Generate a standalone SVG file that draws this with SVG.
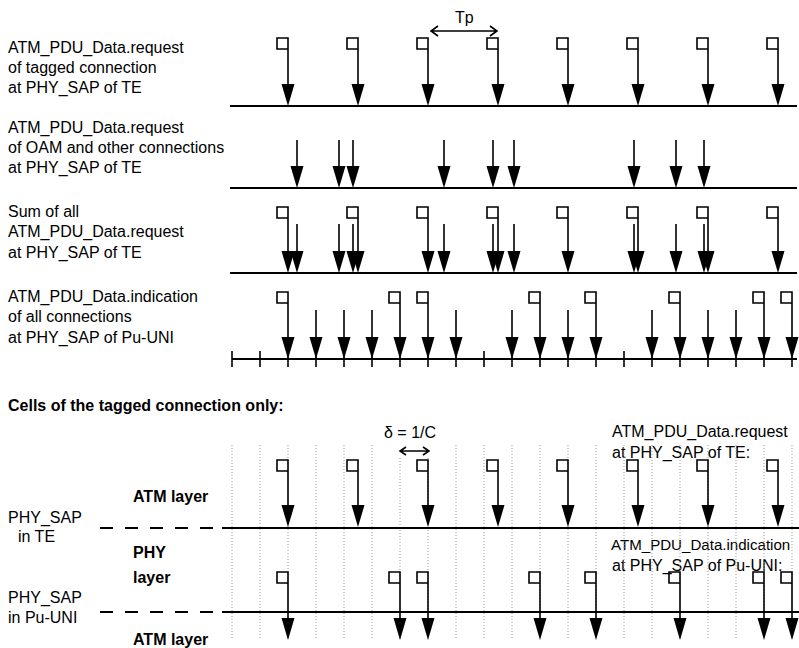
<svg xmlns="http://www.w3.org/2000/svg" xmlns:xlink="http://www.w3.org/1999/xlink" width="799" height="648" viewBox="0 0 799 648">
<style>
text{font-family:"Liberation Sans",Arial,sans-serif;font-size:16px;fill:#000}
.b{font-weight:bold}
.st{stroke:#000;stroke-width:1.6;fill:none}
.bl{stroke:#000;stroke-width:2;fill:none}
.grid{stroke:#9a9a9a;stroke-width:1;stroke-dasharray:1 2;fill:none}
.dash{stroke:#000;stroke-width:2;stroke-dasharray:13 12;fill:none}
</style>
<defs>
<path id="ah" d="M-6.5,-22 H6.5 L0,0 Z" fill="#000"/>
</defs>

<g id="labels">
<text x="8" y="53">ATM_PDU_Data.request</text>
<text x="8" y="73">of tagged connection</text>
<text x="8" y="93">at PHY_SAP of TE</text>
<text x="8" y="133">ATM_PDU_Data.request</text>
<text x="8" y="153">of OAM and other connections</text>
<text x="8" y="173">at PHY_SAP of TE</text>
<text x="8" y="217">Sum of all</text>
<text x="8" y="237">ATM_PDU_Data.request</text>
<text x="8" y="258">at PHY_SAP of TE</text>
<text x="8" y="302">ATM_PDU_Data.indication</text>
<text x="8" y="322">of all connections</text>
<text x="8" y="343">at PHY_SAP of Pu-UNI</text>
<text x="8" y="411" class="b">Cells of the tagged connection only:</text>
<text x="384" y="438">δ = 1/C</text>
<text x="612" y="437">ATM_PDU_Data.request</text>
<text x="612" y="458">at PHY_SAP of TE:</text>
<text x="133" y="502" class="b">ATM layer</text>
<text x="8" y="523">PHY_SAP</text>
<text x="18" y="542">in TE</text>
<text x="611" y="550" style="font-size:15.1px">ATM_PDU_Data.indication</text>
<text x="612" y="571">at PHY_SAP of Pu-UNI:</text>
<text x="133" y="558" class="b">PHY</text>
<text x="133" y="583" class="b">layer</text>
<text x="8" y="603">PHY_SAP</text>
<text x="8" y="623">in Pu-UNI</text>
<text x="133" y="645" class="b">ATM layer</text>
</g>

<g id="tp">
<text x="455" y="23">Tp</text>
<path class="st" d="M431,31 H497 M438,26 L431,31 L438,36 M490,26 L497,31 L490,36"/>
</g>

<g id="row1">
<path class="bl" d="M230,106 H797"/>
<path class="st" d="M288,84 V38 h-11 v11 h11 M358,84 V38 h-11 v11 h11 M428,84 V38 h-11 v11 h11 M498,84 V38 h-11 v11 h11 M568,84 V38 h-11 v11 h11 M638,84 V38 h-11 v11 h11 M708,84 V38 h-11 v11 h11 M778,84 V38 h-11 v11 h11"/>
<use xlink:href="#ah" x="288" y="106"/><use xlink:href="#ah" x="358" y="106"/><use xlink:href="#ah" x="428" y="106"/><use xlink:href="#ah" x="498" y="106"/>
<use xlink:href="#ah" x="568" y="106"/><use xlink:href="#ah" x="638" y="106"/><use xlink:href="#ah" x="708" y="106"/><use xlink:href="#ah" x="778" y="106"/>
</g>

<g id="row2">
<path class="bl" d="M230,188 H797"/>
<path class="st" d="M297,140 V166 M339,140 V166 M353,140 V166 M444,140 V166 M493,140 V166 M514,140 V166 M634,140 V166 M676,140 V166 M704,140 V166"/>
<use xlink:href="#ah" x="297" y="188"/><use xlink:href="#ah" x="339" y="188"/><use xlink:href="#ah" x="353" y="188"/><use xlink:href="#ah" x="444" y="188"/><use xlink:href="#ah" x="493" y="188"/><use xlink:href="#ah" x="514" y="188"/><use xlink:href="#ah" x="634" y="188"/><use xlink:href="#ah" x="676" y="188"/><use xlink:href="#ah" x="704" y="188"/>
</g>

<g id="row3">
<path class="bl" d="M230,273 H797"/>
<path class="st" d="M288,251 V207 h-11 v11 h11 M358,251 V207 h-11 v11 h11 M428,251 V207 h-11 v11 h11 M498,251 V207 h-11 v11 h11 M568,251 V207 h-11 v11 h11 M638,251 V207 h-11 v11 h11 M708,251 V207 h-11 v11 h11 M778,251 V207 h-11 v11 h11"/>
<path class="st" d="M297,224 V251 M339,224 V251 M353,224 V251 M444,224 V251 M493,224 V251 M514,224 V251 M634,224 V251 M676,224 V251 M704,224 V251"/>
<use xlink:href="#ah" x="288" y="273"/><use xlink:href="#ah" x="358" y="273"/><use xlink:href="#ah" x="428" y="273"/><use xlink:href="#ah" x="498" y="273"/>
<use xlink:href="#ah" x="568" y="273"/><use xlink:href="#ah" x="638" y="273"/><use xlink:href="#ah" x="708" y="273"/><use xlink:href="#ah" x="778" y="273"/>
<use xlink:href="#ah" x="297" y="273"/><use xlink:href="#ah" x="339" y="273"/><use xlink:href="#ah" x="353" y="273"/><use xlink:href="#ah" x="444" y="273"/><use xlink:href="#ah" x="493" y="273"/><use xlink:href="#ah" x="514" y="273"/><use xlink:href="#ah" x="634" y="273"/><use xlink:href="#ah" x="676" y="273"/><use xlink:href="#ah" x="704" y="273"/>
</g>

<g id="row4">
<path class="bl" d="M232,359 H797"/>
<path class="st" d="M232,351 V367 M260,351 V367 M288,351 V367 M316,351 V367 M344,351 V367 M372,351 V367 M400,351 V367 M428,351 V367 M456,351 V367 M484,351 V367 M512,351 V367 M540,351 V367 M568,351 V367 M596,351 V367 M624,351 V367 M652,351 V367 M680,351 V367 M708,351 V367 M736,351 V367 M764,351 V367 M792,351 V367"/>
<path class="st" d="M288,337 V292 h-11 v11 h11 M400,337 V292 h-11 v11 h11 M428,337 V292 h-11 v11 h11 M540,337 V292 h-11 v11 h11 M596,337 V292 h-11 v11 h11 M680,337 V292 h-11 v11 h11 M764,337 V292 h-11 v11 h11 M792,337 V292 h-11 v11 h11"/>
<path class="st" d="M316,310 V337 M344,310 V337 M372,310 V337 M456,310 V337 M512,310 V337 M568,310 V337 M652,310 V337 M708,310 V337 M736,310 V337"/>
<use xlink:href="#ah" x="288" y="359"/><use xlink:href="#ah" x="316" y="359"/><use xlink:href="#ah" x="344" y="359"/><use xlink:href="#ah" x="372" y="359"/><use xlink:href="#ah" x="400" y="359"/><use xlink:href="#ah" x="428" y="359"/><use xlink:href="#ah" x="456" y="359"/>
<use xlink:href="#ah" x="512" y="359"/><use xlink:href="#ah" x="540" y="359"/><use xlink:href="#ah" x="568" y="359"/><use xlink:href="#ah" x="596" y="359"/>
<use xlink:href="#ah" x="652" y="359"/><use xlink:href="#ah" x="680" y="359"/><use xlink:href="#ah" x="708" y="359"/><use xlink:href="#ah" x="736" y="359"/><use xlink:href="#ah" x="764" y="359"/><use xlink:href="#ah" x="792" y="359"/>
</g>

<g id="grid">
<path class="grid" d="M232,445 V640 M260,445 V640 M288,445 V640 M316,445 V640 M344,445 V640 M372,445 V640 M400,458 V640 M428,458 V640 M456,445 V640 M484,445 V640 M512,445 V640 M540,445 V640 M568,445 V640 M596,445 V640 M624,445 V640 M652,445 V640 M680,445 V640 M708,445 V640 M736,445 V640 M764,445 V640 M792,445 V640"/>
</g>

<g id="delta">
<path class="st" d="M400,451 H429 M406,447 L400,451 L406,455 M423,447 L429,451 L423,455"/>
</g>

<g id="te">
<path class="dash" d="M100,528 H222"/>
<path class="bl" d="M222,528 H799"/>
<path class="st" d="M288,505 V460 h-11 v11 h11 M358,505 V460 h-11 v11 h11 M428,505 V460 h-11 v11 h11 M498,505 V460 h-11 v11 h11 M568,505 V460 h-11 v11 h11 M638,505 V460 h-11 v11 h11 M708,505 V460 h-11 v11 h11 M778,505 V460 h-11 v11 h11"/>
<use xlink:href="#ah" x="288" y="527"/><use xlink:href="#ah" x="358" y="527"/><use xlink:href="#ah" x="428" y="527"/><use xlink:href="#ah" x="498" y="527"/>
<use xlink:href="#ah" x="568" y="527"/><use xlink:href="#ah" x="638" y="527"/><use xlink:href="#ah" x="708" y="527"/><use xlink:href="#ah" x="778" y="527"/>
</g>

<g id="pu">
<path class="dash" d="M100,612 H222"/>
<path class="bl" d="M222,612 H799"/>
<path class="st" d="M288,618 V572 h-11 v11 h11 M400,618 V572 h-11 v11 h11 M428,618 V572 h-11 v11 h11 M540,618 V572 h-11 v11 h11 M596,618 V572 h-11 v11 h11 M680,618 V572 h-11 v11 h11 M764,618 V572 h-11 v11 h11 M792,618 V572 h-11 v11 h11"/>
<use xlink:href="#ah" x="288" y="640"/><use xlink:href="#ah" x="400" y="640"/><use xlink:href="#ah" x="428" y="640"/><use xlink:href="#ah" x="540" y="640"/>
<use xlink:href="#ah" x="596" y="640"/><use xlink:href="#ah" x="680" y="640"/><use xlink:href="#ah" x="764" y="640"/><use xlink:href="#ah" x="792" y="640"/>
</g>
</svg>
